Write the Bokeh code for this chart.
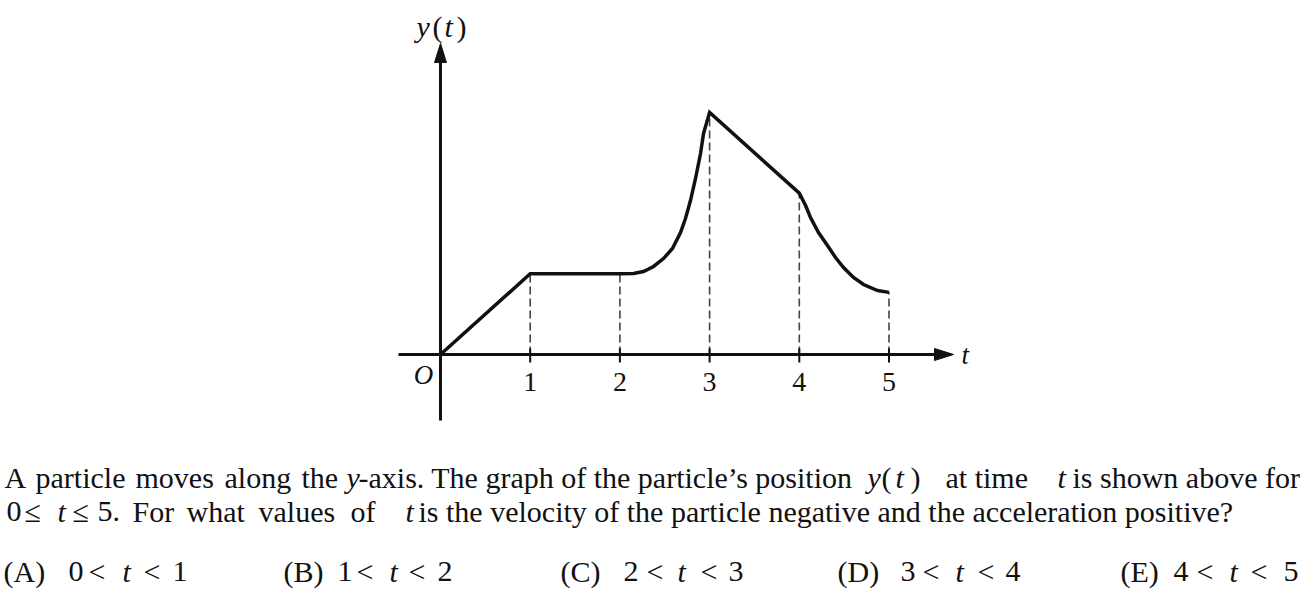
from bokeh.plotting import figure
from bokeh.models import Label, Range1d
from bokeh.embed import file_html
from bokeh.resources import INLINE

# ---------------- data ----------------
T_CURVE = [0.0, 1.0, 2.0, 2.152, 2.263, 2.375, 2.486, 2.586, 2.676, 2.731, 2.787,
           2.843, 2.899, 2.932, 3.0, 4.0, 4.07, 4.125, 4.214, 4.314, 4.404, 4.493,
           4.604, 4.716, 4.872, 5.0]
Y_CURVE = [0.0, 1.0, 1.0, 1.004, 1.029, 1.091, 1.189, 1.313, 1.512, 1.685, 1.908,
           2.181, 2.491, 2.738, 3.0, 2.0, 1.846, 1.698, 1.512, 1.351, 1.202, 1.078,
           0.954, 0.867, 0.793, 0.77]
DASH_T = [1, 2, 3, 4, 5]
DASH_Y = [1.0, 1.0, 3.0, 2.0, 0.77]
TICK_LABELS = ["1", "2", "3", "4", "5"]

# ---------------- layout calibration (pixels of the picture) ----------------
ORIGIN_X, ORIGIN_Y = 0, 0
W, H = 1314, 596
PX_X0, PX_PER_T = 440.0, 89.7
PX_Y0, PX_PER_Y = 354.0, 80.7
BASE_SHIFT = 0.33   # empirical correction of the rendered baseline (em)


def dx(px):
    return (px - PX_X0) / PX_PER_T


def dy(py):
    return (PX_Y0 - py) / PX_PER_Y


FONT = "Liberation Serif"
INK = "#111111"
TXT = 30

p = figure(width=W, height=H,
           x_range=Range1d(dx(ORIGIN_X), dx(ORIGIN_X + W)),
           y_range=Range1d(dy(ORIGIN_Y + H), dy(ORIGIN_Y)),
           output_backend="svg", toolbar_location=None,
           x_axis_location=None, y_axis_location=None,
           min_border=0, outline_line_color=None)
p.grid.visible = False

# axes
AX_X_LEFT, AX_X_TIP = 398, 953
AX_Y_BOTTOM, AX_Y_TIP = 420, 43
HEAD_LEN, HEAD_HALF = 19, 6
p.line([dx(AX_X_LEFT), dx(AX_X_TIP - 4)], [0, 0], line_width=3, line_color=INK)
p.line([0, 0], [dy(AX_Y_BOTTOM), dy(AX_Y_TIP + 4)], line_width=3, line_color=INK)
p.patch([dx(AX_X_TIP), dx(AX_X_TIP - HEAD_LEN), dx(AX_X_TIP - HEAD_LEN)],
        [0, HEAD_HALF / PX_PER_Y, -HEAD_HALF / PX_PER_Y], color=INK)
p.patch([0, -HEAD_HALF / PX_PER_T, HEAD_HALF / PX_PER_T],
        [dy(AX_Y_TIP), dy(AX_Y_TIP + HEAD_LEN), dy(AX_Y_TIP + HEAD_LEN)], color=INK)

# dashed drop lines and ticks
p.segment(x0=DASH_T, y0=[0] * len(DASH_T), x1=DASH_T, y1=DASH_Y,
          line_dash="8 4", line_color="#444444", line_width=1.6)
p.segment(x0=DASH_T, y0=[-8 / PX_PER_Y] * len(DASH_T), x1=DASH_T,
          y1=[6 / PX_PER_Y] * len(DASH_T), line_color=INK, line_width=2)

# curve
p.line(T_CURVE, Y_CURVE, line_width=3.5, line_color=INK, line_join="miter")


def lab(px, py, text, italic=False, size=TXT, align="left"):
    p.add_layout(Label(x=dx(px), y=dy(py - BASE_SHIFT * size), text=text,
                       text_font=FONT, text_font_size=f"{size}px",
                       text_font_style="italic" if italic else "normal",
                       text_color=INK, text_align=align,
                       text_baseline="alphabetic"))


# tick labels
for t, s in zip(DASH_T, TICK_LABELS):
    p.add_layout(Label(x=t, y=dy(391 - BASE_SHIFT * 28), text=s, text_font=FONT,
                       text_font_size="28px", text_color=INK,
                       text_align="center", text_baseline="alphabetic"))
lab(423, 383, "O", italic=True, size=27, align="center")
lab(961, 363, "t", italic=True, size=27)

# y(t) axis label
lab(416, 36, "y", italic=True)
lab(432, 36, "(")
lab(444, 36, "t", italic=True)
lab(456, 36, ")")

# question text: line 1 (justified: words placed individually)
L1 = 487
for x, w in zip([4, 35, 135, 224, 301], ["A", "particle", "moves", "along", "the"]):
    lab(x, L1, w)
lab(346, L1, "y", italic=True)
lab(358, L1, "-axis. The graph of the particle\u2019s position")
lab(867, L1, "y", italic=True)
lab(881, L1, "(")
lab(895, L1, "t", italic=True)
lab(910, L1, ")")
lab(945, L1, "at time")
lab(1057, L1, "t", italic=True)
lab(1072, L1, "is shown above for")

# line 2
L2 = 521
lab(6, L2, "0")
lab(24, L2, "\u2264")
lab(57, L2, "t", italic=True)
lab(72, L2, "\u2264")
lab(97, L2, "5.")
for x, w in zip([132, 186, 258, 350], ["For", "what", "values", "of"]):
    lab(x, L2, w)
lab(405, L2, "t", italic=True)
lab(418, L2, "is the velocity of the particle negative and the acceleration positive?")

# answer choices
L3 = 581
CHOICES = [
    ("(A)", "0", "1", [3, 68, 88, 122, 143, 172]),
    ("(B)", "1", "2", [283, 337, 356, 389, 408, 437]),
    ("(C)", "2", "3", [560, 623, 646, 677, 700, 728]),
    ("(D)", "3", "4", [837, 900, 922, 955, 977, 1005]),
    ("(E)", "4", "5", [1120, 1173, 1196, 1229, 1250, 1283]),
]
for tag, lo, hi, xs in CHOICES:
    lab(xs[0], L3, tag)
    lab(xs[1], L3, lo)
    lab(xs[2], L3, "<")
    lab(xs[3], L3, "t", italic=True)
    lab(xs[4], L3, "<")
    lab(xs[5], L3, hi)

open("out.html", "w").write(file_html(p, INLINE))
